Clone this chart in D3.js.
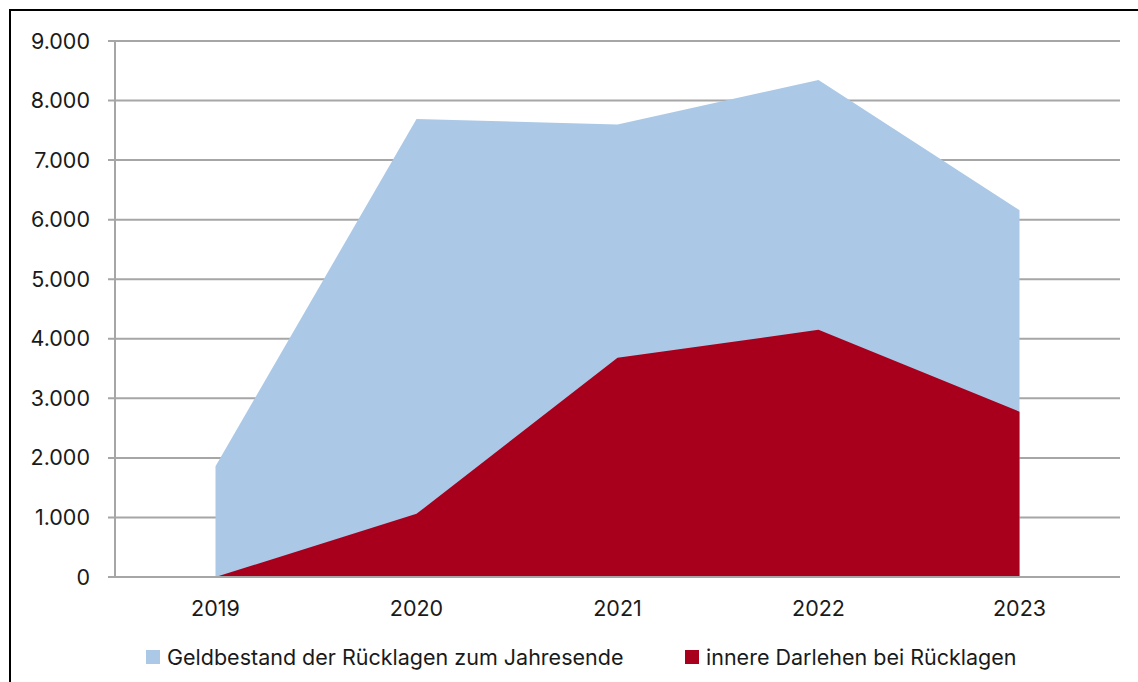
<!DOCTYPE html>
<html>
<head>
<meta charset="utf-8">
<script src="https://cdn.jsdelivr.net/npm/d3@7"></script>
<style>
  body { margin: 0; background: #fff; }
  svg text { font-family: "Inter", "Noto Sans", sans-serif; fill: #1a1a1a; }
</style>
</head>
<body>
<svg id="chart"></svg>
<script>
// data
var years = ["2019", "2020", "2021", "2022", "2023"];
var geldbestand = [1860, 7690, 7600, 8345, 6160];
var darlehen = [0, 1060, 3680, 4150, 2775];
var yTicks = [0, 1000, 2000, 3000, 4000, 5000, 6000, 7000, 8000, 9000];
var seriesNames = ["Geldbestand der Rücklagen zum Jahresende", "innere Darlehen bei Rücklagen"];
var seriesColors = ["#abc9e6", "#a8001c"];

var screen = { width: 1138, height: 682 };
var margins = { top: 41, bottom: 105, left: 115, right: 18 };
var graph = {
  width: screen.width - margins.left - margins.right,
  height: screen.height - margins.top - margins.bottom
};
var fontSize = 21.5;

var svg = d3.select("#chart").attr("width", screen.width).attr("height", screen.height);

// outer frame (cut off at right and bottom like the source)
svg.append("rect")
  .attr("x", 10).attr("y", 10)
  .attr("width", screen.width + 20).attr("height", screen.height + 20)
  .attr("fill", "none").attr("stroke", "#000").attr("stroke-width", 2);

var xScale = d3.scalePoint().domain(years).range([0, graph.width]).padding(0.5);
var yScale = d3.scaleLinear().domain([0, 9000]).range([graph.height, 0]);

var g = svg.append("g")
  .attr("transform", "translate(" + margins.left + "," + margins.top + ")");

// grid
g.append("g").selectAll("line").data(yTicks).enter().append("line")
  .attr("x1", -7).attr("x2", graph.width)
  .attr("y1", function (d) { return yScale(d); })
  .attr("y2", function (d) { return yScale(d); })
  .attr("stroke", "#a6a6a6").attr("stroke-width", 2);

// areas
var makeArea = function (values) {
  return d3.area()
    .x(function (d, i) { return xScale(years[i]); })
    .y0(yScale(0))
    .y1(function (d) { return yScale(d); })(values);
};
g.append("path").attr("d", makeArea(geldbestand)).attr("fill", seriesColors[0]);
g.append("path").attr("d", makeArea(darlehen)).attr("fill", seriesColors[1]);

// axes
g.append("line")
  .attr("x1", 0).attr("x2", 0).attr("y1", 0).attr("y2", graph.height)
  .attr("stroke", "#a6a6a6").attr("stroke-width", 2);
g.append("line")
  .attr("x1", -7).attr("x2", graph.width).attr("y1", graph.height).attr("y2", graph.height)
  .attr("stroke", "#a6a6a6").attr("stroke-width", 2);

var fmt = function (d) { return d3.format(",")(d).replace(/,/g, "."); };

g.append("g").selectAll("text").data(yTicks).enter().append("text")
  .attr("x", -25)
  .attr("y", function (d) { return yScale(d); })
  .attr("dy", "0.35em")
  .attr("text-anchor", "end")
  .attr("font-size", fontSize)
  .text(fmt);

g.append("g").selectAll("text").data(years).enter().append("text")
  .attr("x", function (d) { return xScale(d); })
  .attr("y", graph.height + 31)
  .attr("dy", "0.35em")
  .attr("text-anchor", "middle")
  .attr("font-size", fontSize)
  .text(function (d) { return d; });

// legend
var legendX = [146, 685];
var legend = svg.append("g");
seriesNames.forEach(function (name, i) {
  legend.append("rect")
    .attr("x", legendX[i]).attr("y", 650)
    .attr("width", 14).attr("height", 14)
    .attr("fill", seriesColors[i]);
  legend.append("text")
    .attr("x", legendX[i] + 21).attr("y", 657)
    .attr("dy", "0.35em")
    .attr("font-size", fontSize)
    .text(name);
});
</script>
</body>
</html>
